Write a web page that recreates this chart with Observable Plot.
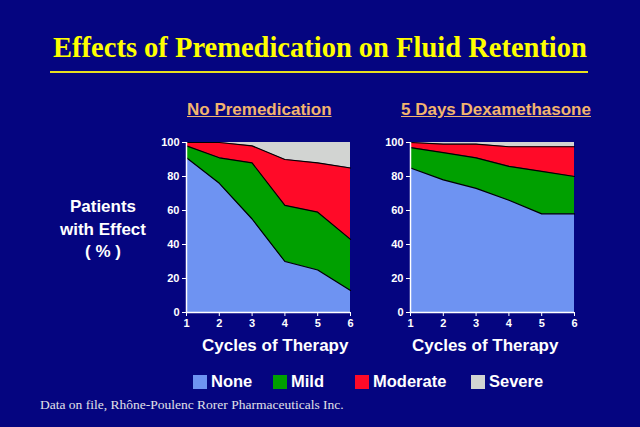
<!DOCTYPE html>
<html>
<head>
<meta charset="utf-8">
<script src="https://cdn.jsdelivr.net/npm/d3@7"></script>
<script src="https://cdn.jsdelivr.net/npm/@observablehq/plot@0.6"></script>
<style>
  html, body { margin: 0; padding: 0; background: #050580; }
  #page { position: relative; width: 640px; height: 427px; background: #050580; overflow: hidden; font-family: "Liberation Sans", Arial, sans-serif; }
  .abs { position: absolute; white-space: nowrap; }
  #title { left: 0; width: 640px; top: 32px; text-align: center; font-family: "Liberation Serif", "Times New Roman", serif; font-weight: bold; font-size: 28.5px; color: #FFFF00; }
  #rule { left: 50px; width: 538px; top: 71px; height: 2px; background: #E8E020; }
  .sub { top: 100px; font-weight: bold; font-size: 17px; color: #F2B46E; text-decoration: underline; }
  .xlab { top: 336px; font-weight: bold; font-size: 17px; color: #fff; }
  #ylab { left: 53px; width: 100px; top: 196px; text-align: center; font-weight: bold; font-size: 17px; line-height: 22.5px; color: #fff; }
  .leg { top: 372px; font-weight: bold; font-size: 16.5px; color: #fff; }
  .sw { position: absolute; top: 375px; width: 14px; height: 14px; }
  #cap { left: 40px; top: 397px; font-family: "Liberation Serif", "Times New Roman", serif; font-size: 13.5px; color: #E0E0E8; }
  .plot { position: absolute; }
</style>
</head>
<body>
<div id="page">
  <div id="title" class="abs">Effects of Premedication on Fluid Retention</div>
  <div id="rule" class="abs"></div>
  <div class="abs sub" style="left:187px">No Premedication</div>
  <div class="abs sub" style="left:401px">5 Days Dexamethasone</div>
  <div id="ylab" class="abs">Patients<br>with Effect<br>( % )</div>
  <div id="left" class="plot" style="left:146px; top:130px"></div>
  <div id="right" class="plot" style="left:370px; top:130px"></div>
  <div class="abs xlab" style="left:202px">Cycles of Therapy</div>
  <div class="abs xlab" style="left:412px">Cycles of Therapy</div>
  <div id="legend"></div>
  <div id="cap" class="abs">Data on file, Rhône-Poulenc Rorer Pharmaceuticals Inc.</div>
</div>
<script>
// ---- data ----
const cycles = [1, 2, 3, 4, 5, 6];
const seriesNames = ["None", "Mild", "Moderate", "Severe"];
const seriesColors = ["#6E93F2", "#00A000", "#FF0A28", "#D2D4D2"];
const yTicks = [0, 20, 40, 60, 80, 100];

// No Premedication (percent of patients per severity, per cycle)
const noPremedNone     = [91, 76, 55, 30, 25, 13];
const noPremedMild     = [7, 15, 33, 33, 34, 30];
const noPremedModerate = [2, 9, 10, 27, 29, 42];
const noPremedSevere   = [0, 0, 2, 10, 12, 15];

// 5 Days Dexamethasone
const dexaNone     = [85, 78, 73, 66, 58, 58];
const dexaMild     = [12, 16, 18, 20, 25, 22];
const dexaModerate = [3, 5, 8, 11.5, 14.5, 17.5];
const dexaSevere   = [0, 1, 1, 2.5, 2.5, 2.5];

// legend x positions
const legendX = [193, 273, 355, 471];

function toLong(arrs) {
  const out = [];
  seriesNames.forEach((s, i) => {
    cycles.forEach((c, j) => out.push({cycle: c, series: s, value: arrs[i][j]}));
  });
  return out;
}

function chart(data) {
  return Plot.plot({
    width: 214, height: 210,
    marginLeft: 40, marginRight: 10, marginTop: 12, marginBottom: 28,
    style: {background: "transparent", color: "white", fontFamily: "'Liberation Sans', Arial, sans-serif", fontSize: "11px", fontWeight: "bold"},
    x: {domain: [1, 6], label: null},
    y: {domain: [0, 100], label: null},
    color: {domain: seriesNames, range: seriesColors},
    marks: [
      Plot.areaY(data, {x: "cycle", y: "value", z: "series", fill: "series", order: seriesNames}),
      Plot.lineY(data, Plot.stackY2({x: "cycle", y: "value", z: "series", order: seriesNames, filter: d => d.series !== "Severe", stroke: "#000", strokeWidth: 1.2})),
      Plot.ruleX([1], {stroke: "white", strokeWidth: 1.5}),
      Plot.ruleY([0], {stroke: "white", strokeWidth: 1.5}),
      Plot.axisX({ticks: cycles, tickFormat: d => d, tickSize: 4, tickPadding: 3, stroke: "white", fill: "white", label: null, fontSize: 11}),
      Plot.axisY({ticks: yTicks, tickSize: 4, tickPadding: 3, stroke: "white", fill: "white", label: null, fontSize: 11})
    ]
  });
}

document.getElementById("left").append(chart(toLong([noPremedNone, noPremedMild, noPremedModerate, noPremedSevere])));
document.getElementById("right").append(chart(toLong([dexaNone, dexaMild, dexaModerate, dexaSevere])));

const legend = document.getElementById("legend");
seriesNames.forEach((s, i) => {
  const sw = document.createElement("div");
  sw.className = "sw";
  sw.style.left = legendX[i] + "px";
  sw.style.background = seriesColors[i];
  legend.append(sw);
  const t = document.createElement("div");
  t.className = "abs leg";
  t.style.left = (legendX[i] + 18) + "px";
  t.textContent = s;
  legend.append(t);
});
</script>
</body>
</html>
